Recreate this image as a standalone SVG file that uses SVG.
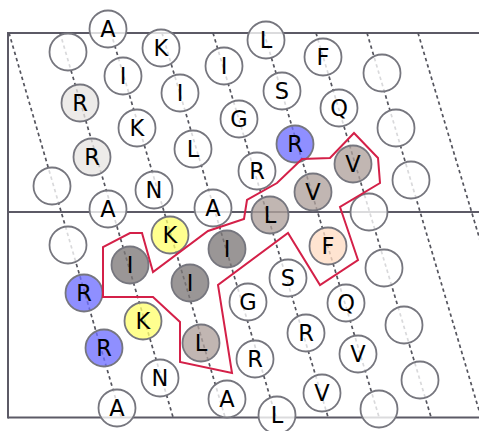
<svg xmlns="http://www.w3.org/2000/svg" width="479" height="431" viewBox="0 0 479 431">
<style>
.frame{stroke:#5c5a66;stroke-width:2;fill:none}
.dash{stroke:#55555e;stroke-width:1.7;stroke-dasharray:3.5,3;fill:none}
circle{stroke:#76767e;stroke-width:1.8;fill-opacity:0.78}
.w{fill:#ffffff}
.lg{fill:#e8e5e3}
.b{fill:#6f6fff}
.y{fill:#ffff70}
.d{fill:#7e7878}
.t{fill:#b0a19c}
.p{fill:#ffdcc4}
text{font-family:"DejaVu Sans",sans-serif;font-size:22.5px;text-anchor:middle;dominant-baseline:central;fill:#000}
.hl{fill:none;stroke:#d42048;stroke-width:2}
</style>
<g id="connectors">
<line class="frame" x1="8" y1="33" x2="479" y2="33"/>
<line class="frame" x1="8" y1="212" x2="479" y2="212"/>
<line class="frame" x1="8" y1="417.5" x2="479" y2="417.5"/>
<line class="frame" x1="8" y1="32" x2="8" y2="418.5"/>
<line class="dash" x1="9" y1="33" x2="121" y2="417"/>
<line class="dash" x1="60" y1="33" x2="173" y2="417"/>
<line class="dash" x1="111" y1="33" x2="225" y2="417"/>
<line class="dash" x1="162" y1="33" x2="276" y2="417"/>
<line class="dash" x1="213" y1="33" x2="328" y2="417"/>
<line class="dash" x1="264" y1="33" x2="379" y2="417"/>
<line class="dash" x1="316" y1="33" x2="431" y2="417"/>
<line class="dash" x1="367" y1="33" x2="481" y2="417"/>
<line class="dash" x1="418" y1="33" x2="533" y2="417"/>
</g>
<!-- line 0 -->
<g id="n0a"><circle class="w" cx="52" cy="186" r="18.5"/></g>
<g id="n0b"><circle class="w" cx="68" cy="245" r="18.5"/></g>
<g id="n0c"><circle class="b" cx="84" cy="293" r="18.5"/><text x="84" y="293">R</text></g>
<g id="n0d"><circle class="b" cx="104" cy="348" r="18.5"/><text x="104" y="348">R</text></g>
<g id="n0e"><circle class="w" cx="117" cy="408" r="18.5"/><text x="117" y="408">A</text></g>
<!-- line 1 -->
<g id="n1a"><circle class="w" cx="68" cy="52" r="18.5"/></g>
<g id="n1b"><circle class="lg" cx="80" cy="103" r="18.5"/><text x="80" y="103">R</text></g>
<g id="n1c"><circle class="lg" cx="92" cy="157" r="18.5"/><text x="92" y="157">R</text></g>
<g id="n1d"><circle class="w" cx="108" cy="209" r="18.5"/><text x="108" y="209">A</text></g>
<g id="n1e"><circle class="d" cx="130" cy="265" r="18.5"/><text x="130" y="265">I</text></g>
<g id="n1f"><circle class="y" cx="143" cy="321" r="18.5"/><text x="143" y="321">K</text></g>
<g id="n1g"><circle class="w" cx="160" cy="378" r="18.5"/><text x="160" y="378">N</text></g>
<!-- line 2 -->
<g id="n2a"><circle class="w" cx="108" cy="29" r="18.5"/><text x="108" y="29">A</text></g>
<g id="n2b"><circle class="w" cx="123" cy="76" r="18.5"/><text x="123" y="76">I</text></g>
<g id="n2c"><circle class="w" cx="137" cy="128" r="18.5"/><text x="137" y="128">K</text></g>
<g id="n2d"><circle class="w" cx="154" cy="190" r="18.5"/><text x="154" y="190">N</text></g>
<g id="n2e"><circle class="y" cx="170" cy="235" r="18.5"/><text x="170" y="235">K</text></g>
<g id="n2f"><circle class="d" cx="190" cy="283" r="18.5"/><text x="190" y="283">I</text></g>
<g id="n2g"><circle class="t" cx="201" cy="343" r="18.5"/><text x="201" y="343">L</text></g>
<g id="n2h"><circle class="w" cx="227" cy="399" r="18.5"/><text x="227" y="399">A</text></g>
<!-- line 3 -->
<g id="n3a"><circle class="w" cx="161" cy="48" r="18.5"/><text x="161" y="48">K</text></g>
<g id="n3b"><circle class="w" cx="180" cy="93" r="18.5"/><text x="180" y="93">I</text></g>
<g id="n3c"><circle class="w" cx="193" cy="149" r="18.5"/><text x="193" y="149">L</text></g>
<g id="n3d"><circle class="w" cx="213" cy="208" r="18.5"/><text x="213" y="208">A</text></g>
<g id="n3e"><circle class="d" cx="227" cy="249" r="18.5"/><text x="227" y="249">I</text></g>
<g id="n3f"><circle class="w" cx="248" cy="302" r="18.5"/><text x="248" y="302">G</text></g>
<g id="n3g"><circle class="w" cx="255" cy="359" r="18.5"/><text x="255" y="359">R</text></g>
<g id="n3h"><circle class="w" cx="277" cy="415" r="18.5"/><text x="277" y="415">L</text></g>
<!-- line 4 -->
<g id="n4a"><circle class="w" cx="224" cy="66" r="18.5"/><text x="224" y="66">I</text></g>
<g id="n4b"><circle class="w" cx="239" cy="119" r="18.5"/><text x="239" y="119">G</text></g>
<g id="n4c"><circle class="w" cx="257" cy="171" r="18.5"/><text x="257" y="171">R</text></g>
<g id="n4d"><circle class="t" cx="270" cy="215" r="18.5"/><text x="270" y="215">L</text></g>
<g id="n4e"><circle class="w" cx="288" cy="278" r="18.5"/><text x="288" y="278">S</text></g>
<g id="n4f"><circle class="w" cx="306" cy="333" r="18.5"/><text x="306" y="333">R</text></g>
<g id="n4g"><circle class="w" cx="322" cy="393" r="18.5"/><text x="322" y="393">V</text></g>
<!-- line 5 -->
<g id="n5a"><circle class="w" cx="266" cy="40" r="18.5"/><text x="266" y="40">L</text></g>
<g id="n5b"><circle class="w" cx="282" cy="91" r="18.5"/><text x="282" y="91">S</text></g>
<g id="n5c"><circle class="b" cx="295" cy="144" r="18.5"/><text x="295" y="144">R</text></g>
<g id="n5d"><circle class="t" cx="313" cy="192" r="18.5"/><text x="313" y="192">V</text></g>
<g id="n5e"><circle class="p" cx="328" cy="246" r="18.5"/><text x="328" y="246">F</text></g>
<g id="n5f"><circle class="w" cx="346" cy="303" r="18.5"/><text x="346" y="303">Q</text></g>
<g id="n5g"><circle class="w" cx="358" cy="354" r="18.5"/><text x="358" y="354">V</text></g>
<g id="n5h"><circle class="w" cx="379" cy="409" r="18.5"/></g>
<!-- line 6 -->
<g id="n6a"><circle class="w" cx="323" cy="57" r="18.5"/><text x="323" y="57">F</text></g>
<g id="n6b"><circle class="w" cx="339" cy="108" r="18.5"/><text x="339" y="108">Q</text></g>
<g id="n6c"><circle class="t" cx="353" cy="164" r="18.5"/><text x="353" y="164">V</text></g>
<g id="n6d"><circle class="w" cx="369" cy="212" r="18.5"/></g>
<g id="n6e"><circle class="w" cx="384" cy="268" r="18.5"/></g>
<g id="n6f"><circle class="w" cx="404" cy="325" r="18.5"/></g>
<g id="n6g"><circle class="w" cx="420" cy="380" r="18.5"/></g>
<!-- line 7 -->
<g id="n7a"><circle class="w" cx="382" cy="73" r="18.5"/></g>
<g id="n7b"><circle class="w" cx="396" cy="128" r="18.5"/></g>
<g id="n7c"><circle class="w" cx="411" cy="180" r="18.5"/></g>
<g id="region">
<polygon class="hl" points="354,133 378,158 380,183 340,207 358,260 320,285 288,233 218,285 232,373 180,362 180,322 153,297 103,297 103,247 130,233 142,233 153,272 208,231 244,219 247,200 277,183 302,159 330,158"/>
</g>
</svg>
